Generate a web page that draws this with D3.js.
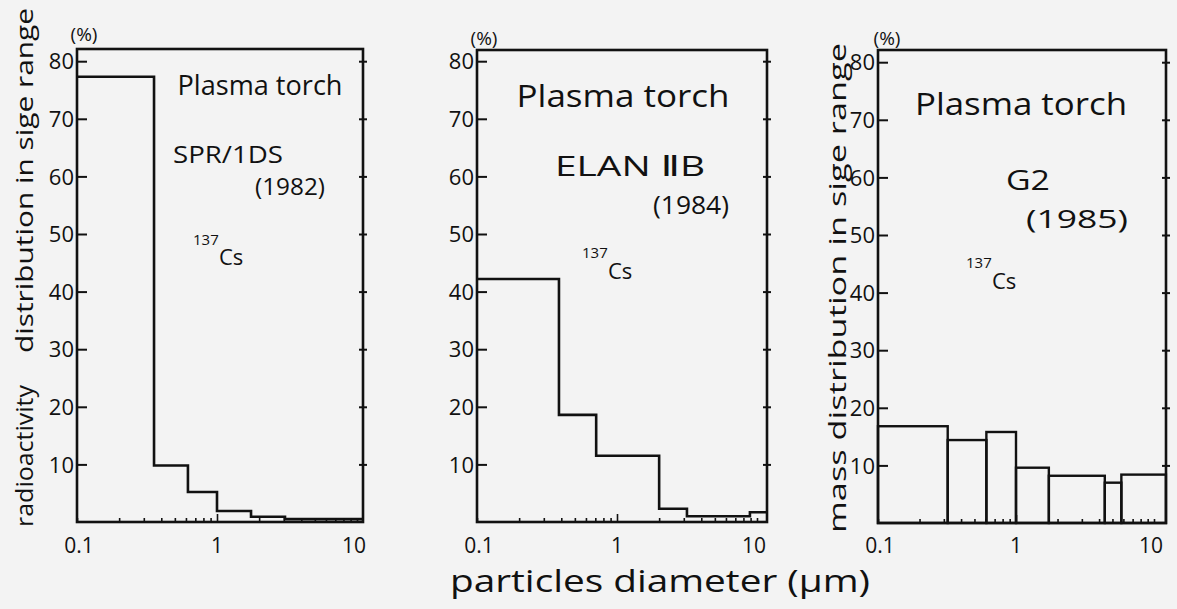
<!DOCTYPE html>
<html>
<head>
<meta charset="utf-8">
<script src="https://cdn.jsdelivr.net/npm/d3@7"></script>
<style>
  html, body { margin: 0; padding: 0; background: #f3f3f3; }
  svg { display: block; }
  text { font-family: "Open Sans", "DejaVu Sans", sans-serif; fill: #111; }
</style>
</head>
<body>
<svg id="chart" width="1177" height="609"></svg>
<script>
// ---------------- data ----------------
const yTicks = [10, 20, 30, 40, 50, 60, 70, 80];
const xTickLabels = ["0.1", "1", "10"];
const xTickValues = [0.1, 1, 10];

// panel 1 : Plasma torch SPR/1DS (1982) — radioactivity distribution
const p1Edges  = [0.1, 0.355, 0.62, 1.0, 1.75, 3.06, 11];
const p1Values = [77.3, 9.8, 5.2, 1.9, 0.9, 0.5];

// panel 2 : Plasma torch ELAN IIB (1984)
const p2Edges  = [0.1, 0.385, 0.71, 2.0, 3.16, 8.9, 11.8];
const p2Values = [42.2, 18.6, 11.5, 2.3, 1.0, 1.7];

// panel 3 : Plasma torch G2 (1985) — mass distribution
const p3Edges  = [0.1, 0.32, 0.61, 1.0, 1.73, 4.4, 5.8, 12.2];
const p3Values = [16.8, 14.4, 15.8, 9.6, 8.2, 7.0, 8.4];

const titles   = ["Plasma torch", "Plasma torch", "Plasma torch"];
const models   = ["SPR/1DS", "ELAN \u2161B", "G2"];
const years    = ["(1982)", "(1984)", "(1985)"];
const isotope  = ["137", "Cs"];
const unitLabel = "(%)";
const yLabel1a = "radioactivity";
const yLabel1b = "distribution in sige range";
const yLabel3  = "mass distribution in sige range";
const xLabel   = "particles diameter (\u00b5m)";

// ---------------- layout ----------------
const panels = [
  { edges: p1Edges, values: p1Values, style: "step", left: 77,  decade: 140, right: 363, top: 49, bottom: 522,
    title: {x: 260, y: 95, size: 27, len: 165},
    model: {x: 228, y: 163, size: 23, len: 110},
    year:  {x: 290, y: 195, size: 23, len: 70},
    iso:   {x: 193, y: 245, cx: 219, cy: 265},
    unit:  {x: 84, y: 41} },
  { edges: p2Edges, values: p2Values, style: "step", left: 477, decade: 140, right: 767, top: 50, bottom: 522,
    title: {x: 623, y: 107, size: 31, len: 213},
    model: {x: 630, y: 176, size: 28, len: 150},
    year:  {x: 691, y: 214, size: 26, len: 76},
    iso:   {x: 582, y: 258, cx: 608, cy: 279},
    unit:  {x: 484, y: 45} },
  { edges: p3Edges, values: p3Values, style: "rect", left: 878, decade: 138, right: 1166, top: 50, bottom: 523,
    title: {x: 1021, y: 115, size: 31, len: 212},
    model: {x: 1028, y: 190, size: 27, len: 44},
    year:  {x: 1077, y: 228, size: 25, len: 102},
    iso:   {x: 966, y: 268, cx: 992, cy: 289},
    unit:  {x: 887, y: 45} }
];

const svg = d3.select("#chart");
svg.append("rect").attr("width", 1177).attr("height", 609).attr("fill", "#f3f3f3");

panels.forEach((p, i) => {
  const x = d3.scaleLog().domain([0.1, 10]).range([p.left, p.left + 2 * p.decade]);
  const y = d3.scaleLinear().domain([0, 80]).range([p.bottom, p.bottom - 80 * 5.76]);
  const g = svg.append("g");

  // data marks
  if (p.style === "step") {
    const pts = p.values.map((v, k) => [p.edges[k], v]);
    pts.push([p.edges[p.edges.length - 1], p.values[p.values.length - 1]]);
    const line = d3.line().x(d => x(d[0])).y(d => y(d[1])).curve(d3.curveStepAfter);
    g.append("path").attr("d", line(pts))
      .attr("fill", "none").attr("stroke", "#111").attr("stroke-width", 2.6);
  } else {
    g.selectAll("rect.bar").data(p.values).join("rect").attr("class", "bar")
      .attr("x", (v, k) => x(p.edges[k]))
      .attr("width", (v, k) => x(p.edges[k + 1]) - x(p.edges[k]))
      .attr("y", v => y(v))
      .attr("height", v => y(0) - y(v))
      .attr("fill", "none").attr("stroke", "#111").attr("stroke-width", 2.4);
  }

  // frame
  g.append("rect").attr("x", p.left).attr("y", p.top)
    .attr("width", p.right - p.left).attr("height", p.bottom - p.top)
    .attr("fill", "none").attr("stroke", "#111").attr("stroke-width", 2.6);

  // left axis (inward ticks)
  const ya = d3.axisLeft(y).tickValues(yTicks).tickSizeInner(-10).tickSizeOuter(0).tickPadding(3);
  const yg = g.append("g").attr("transform", `translate(${p.left},0)`).call(ya);
  yg.select(".domain").remove();
  yg.selectAll("line").attr("stroke", "#111").attr("stroke-width", 2);
  yg.selectAll("text").attr("font-size", 22).attr("fill", "#111")
    .attr("font-family", "\"Open Sans\", sans-serif").attr("dy", "0.35em");

  // right axis ticks (crossing)
  const ra = d3.axisRight(y).tickValues(yTicks).tickSizeInner(4).tickSizeOuter(0).tickFormat("");
  const rg = g.append("g").attr("transform", `translate(${p.right - 4},0)`).call(ra);
  rg.select(".domain").remove();
  rg.selectAll("line").attr("x2", 8).attr("stroke", "#111").attr("stroke-width", 2);

  // bottom axis with log minor ticks (inward)
  const minor = [];
  [0.1, 1].forEach(d => { for (let m = 2; m <= 9; m++) minor.push(d * m); });
  const xa = d3.axisBottom(x).tickValues(minor.concat(xTickValues)).tickSizeInner(-4).tickSizeOuter(0)
    .tickFormat(() => "");
  const xg = g.append("g").attr("transform", `translate(0,${p.bottom})`).call(xa);
  xg.select(".domain").remove();
  xg.selectAll("line").attr("stroke", "#111").attr("stroke-width", 1.6)
    .filter(d => Math.abs(d - 1) < 1e-9).attr("y2", -8);
  g.selectAll("text.xt").data(xTickValues).join("text").attr("class", "xt")
    .attr("x", (d, k) => x(d) + (k === 0 ? 2 : (k === 2 ? -3 : 0)))
    .attr("y", 553).attr("text-anchor", "middle").attr("font-size", 21)
    .text((d, k) => xTickLabels[k]);

  // (%)
  g.append("text").attr("x", p.unit.x).attr("y", p.unit.y).attr("text-anchor", "middle")
    .attr("font-size", 19).text(unitLabel);

  // annotations
  const ann = (o, s) => g.append("text").attr("x", o.x).attr("y", o.y).attr("text-anchor", "middle")
    .attr("font-size", o.size).attr("textLength", o.len).attr("lengthAdjust", "spacingAndGlyphs").text(s);
  ann(p.title, titles[i]);
  ann(p.model, models[i]);
  ann(p.year, years[i]);
  g.append("text").attr("x", p.iso.x).attr("y", p.iso.y).attr("font-size", 15).text(isotope[0]);
  g.append("text").attr("x", p.iso.cx).attr("y", p.iso.cy).attr("font-size", 22).text(isotope[1]);
});

// axis titles
svg.append("text").attr("transform", "translate(33,527) rotate(-90)")
  .attr("font-size", 23).attr("textLength", 142).attr("lengthAdjust", "spacingAndGlyphs").text(yLabel1a);
svg.append("text").attr("transform", "translate(33,353) rotate(-90)")
  .attr("font-size", 23).attr("textLength", 345).attr("lengthAdjust", "spacingAndGlyphs").text(yLabel1b);
svg.append("text").attr("transform", "translate(846,533) rotate(-90)")
  .attr("font-size", 23).attr("textLength", 490).attr("lengthAdjust", "spacingAndGlyphs").text(yLabel3);
svg.append("text").attr("x", 660).attr("y", 592).attr("text-anchor", "middle")
  .attr("font-size", 31).attr("textLength", 420).attr("lengthAdjust", "spacingAndGlyphs").text(xLabel);
</script>
</body>
</html>
